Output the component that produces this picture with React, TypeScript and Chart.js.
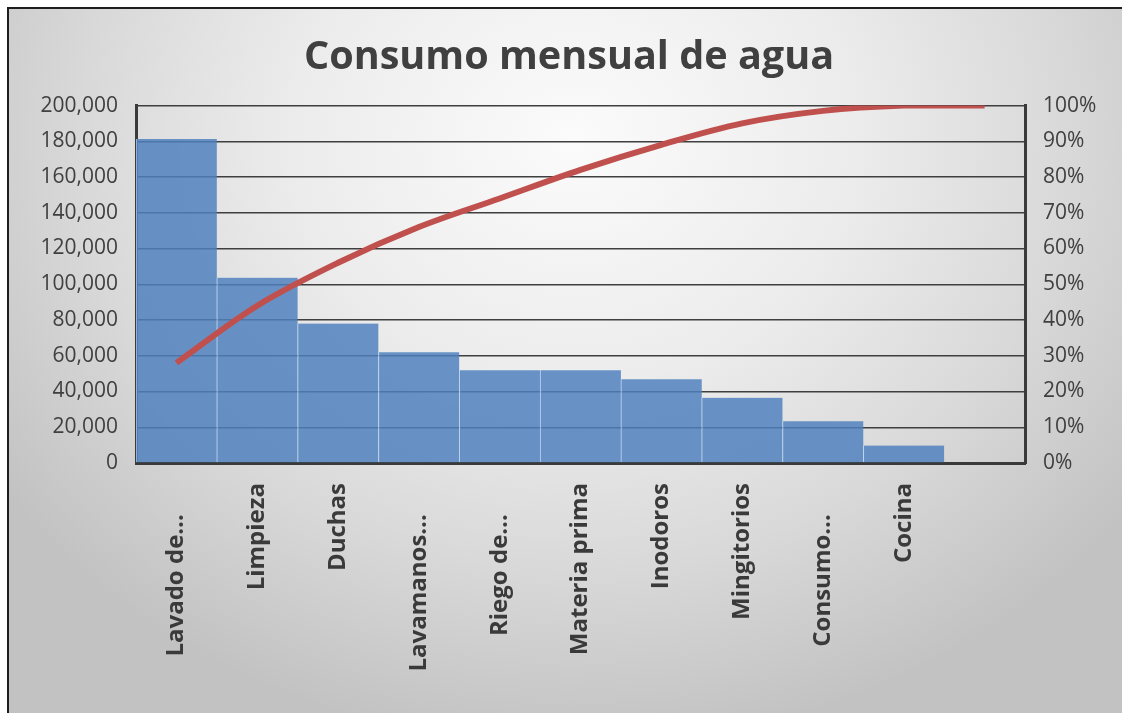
import React, { useEffect, useRef } from "react";
import { Chart, registerables } from "chart.js";

Chart.register(...registerables);

const chartTitle = "Consumo mensual de agua";
const categories = [
  "Lavado de…",
  "Limpieza",
  "Duchas",
  "Lavamanos…",
  "Riego de…",
  "Materia prima",
  "Inodoros",
  "Mingitorios",
  "Consumo…",
  "Cocina",
  "",
];
const consumo = [181300, 103700, 78000, 62000, 51900, 51900, 46900, 36500, 23300, 9800, null];
const acumulado = [28, 44, 56, 66, 74, 82, 89, 95, 98.5, 100, 100];
const leftMax = 200000;
const leftStep = 20000;
const rightMax = 100;
const rightStep = 10;

const FONT = "'Open Sans', 'DejaVu Sans', sans-serif";

export default function App() {
  const ref = useRef<HTMLCanvasElement | null>(null);

  useEffect(() => {
    const canvas = ref.current;
    if (!canvas) return;
    const chart = new Chart(canvas, {
      type: "bar",
      data: {
        labels: categories,
        datasets: [
          {
            type: "line",
            label: "Acumulado",
            data: acumulado,
            yAxisID: "y1",
            borderColor: "#C0504D",
            backgroundColor: "#C0504D",
            borderWidth: 6,
            borderCapStyle: "butt",
            pointRadius: 0,
            tension: 0.35,
            order: 0,
          } as any,
          {
            type: "bar",
            label: "Consumo",
            data: consumo,
            yAxisID: "y",
            backgroundColor: "rgba(79,129,189,0.84)",
            borderColor: "rgba(190,212,240,0.9)",
            borderWidth: { left: 1, right: 0, top: 0, bottom: 0 },
            borderSkipped: false,
            barPercentage: 1,
            categoryPercentage: 1,
            order: 1,
          } as any,
        ],
      },
      options: {
        animation: false,
        responsive: false,
        maintainAspectRatio: false,
        devicePixelRatio: 1,
        layout: { padding: { left: 16, right: 0, top: 0, bottom: 0 } },
        plugins: {
          legend: { display: false },
          tooltip: { enabled: false },
          title: {
            display: true,
            text: chartTitle,
            color: "#404040",
            font: { family: FONT, size: 39.6, weight: "bold" },
            padding: { top: 34, bottom: 24 },
          },
        },
        scales: {
          x: {
            grid: { display: false, drawTicks: false },
            border: { display: true, color: "#3a3a3a", width: 3 },
            ticks: {
              autoSkip: false,
              maxRotation: 90,
              minRotation: 90,
              padding: 20,
              color: "#3a3a3a",
              font: { family: FONT, size: 24, weight: "bold" },
              callback: function (this: any, value: any) {
                const lab = categories[value as number];
                return lab.endsWith("…") ? lab + "\u00A0\u00A0\u00A0\u00A0\u00A0" : lab;
              },
            },
            afterFit: (s: any) => {
              s.height = 250;
            },
          },
          y: {
            position: "left",
            min: 0,
            max: leftMax,
            grid: { color: "#3f3f3f", lineWidth: 1.4, drawTicks: false },
            border: { display: true, color: "#3a3a3a", width: 3 },
            ticks: {
              stepSize: leftStep,
              padding: 18,
              color: "#404040",
              font: { family: FONT, size: 21 },
              callback: (v: any) => Number(v).toLocaleString("en-US"),
            },
            afterFit: (s: any) => {
              s.width = 120;
            },
          },
          y1: {
            position: "right",
            min: 0,
            max: rightMax,
            grid: { display: false, drawTicks: false },
            border: { display: true, color: "#3a3a3a", width: 3 },
            ticks: {
              stepSize: rightStep,
              padding: 18,
              color: "#404040",
              font: { family: FONT, size: 21 },
              callback: (v: any) => `${v}%`,
            },
            afterFit: (s: any) => {
              s.width = 97;
            },
          },
        },
      } as any,
    });
    return () => chart.destroy();
  }, []);

  return (
    <div
      style={{
        position: "fixed",
        left: 0,
        top: 0,
        width: 1122,
        height: 713,
        overflow: "hidden",
        background: "#ffffff",
      }}
    >
      <div
        style={{
          position: "absolute",
          left: 7,
          top: 7,
          width: 1130,
          height: 720,
          borderLeft: "2px solid #1e1e1e",
          borderTop: "2px solid #1e1e1e",
          background:
            "radial-gradient(ellipse 62% 85% at 50% 18%, #fbfbfb 0%, #ececec 40%, #d9d9d9 70%, #c2c2c2 100%)",
        }}
      />
      <canvas
        ref={ref}
        width={1122}
        height={713}
        style={{ position: "absolute", left: 0, top: 0, width: 1122, height: 713 }}
      />
    </div>
  );
}
